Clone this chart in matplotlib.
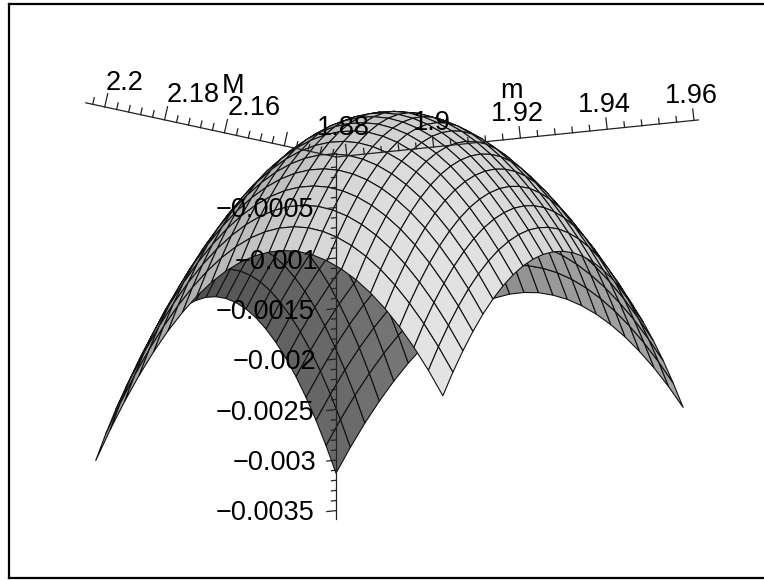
# Surface over (M, m) drawn as a boxed 3D plot, viewed from slightly below
import numpy as np
import matplotlib
matplotlib.use("Agg")
import matplotlib.pyplot as plt
from matplotlib.lines import Line2D
from mpl_toolkits.mplot3d import proj3d

plt.rcParams["font.family"] = ["Liberation Sans", "DejaVu Sans"]

# Axis ranges and ticks
M_range = [2.1227, 2.2063]
m_range = [1.8775, 1.9610]
z_range = [-0.00358, 0.00004]
M_grid_range = [2.1227, 2.2030]
m_grid_range = [1.8775, 1.9575]

M_major = [2.14, 2.16, 2.18, 2.2]
m_major = [1.88, 1.9, 1.92, 1.94, 1.96]
z_major = [-0.0005, -0.001, -0.0015, -0.002, -0.0025, -0.003, -0.0035]
M_minor = [2.124, 2.128, 2.132, 2.136, 2.144, 2.148, 2.152, 2.156, 2.164, 2.168,
           2.172, 2.176, 2.184, 2.188, 2.192, 2.196, 2.204]
m_minor = [1.884, 1.888, 1.892, 1.896, 1.904, 1.908, 1.912, 1.916, 1.924, 1.928,
           1.932, 1.936, 1.944, 1.948, 1.952, 1.956]
z_minor = [-0.0001, -0.0002, -0.0003, -0.0004, -0.0006, -0.0007, -0.0008, -0.0009,
           -0.0011, -0.0012, -0.0013, -0.0014, -0.0016, -0.0017, -0.0018, -0.0019,
           -0.0021, -0.0022, -0.0023, -0.0024, -0.0026, -0.0027, -0.0028, -0.0029,
           -0.0031, -0.0032, -0.0033, -0.0034]

# Surface height along the four mesh edges, in units of 1e-5
z_m_low = [-313, -287.7, -264.8, -244.2, -225.9, -209.9, -196.4, -185.2, -176.2, -169.6,
           -165.5, -163.6, -164, -166.8, -172, -179.4, -189.2, -201.4, -215.9, -232.7,
           -251.9, -273.4, -297.3, -323.5, -352]
z_m_high = [-283, -260.9, -240.8, -222.9, -207, -193.1, -181.4, -171.7, -164, -158.5,
            -155, -153.5, -154.2, -156.9, -161.6, -168.5, -177.4, -188.3, -201.4, -216.5,
            -233.6, -252.9, -274.2, -297.5, -323]
z_M_low = [-313, -288.7, -266.2, -246, -227.6, -211.3, -197, -184.7, -174.4, -166.2,
           -159.8, -155.6, -153.3, -153.1, -154.8, -158.7, -164.4, -172.2, -182, -193.8,
           -207.6, -223.5, -241.2, -261.1, -283]
z_M_high = [-352, -322.9, -296.3, -272.1, -250.3, -230.9, -214, -199.4, -187.3, -177.6,
            -170.3, -165.5, -163.1, -163.1, -165.5, -170.4, -177.7, -187.4, -199.5, -213.9,
            -230.9, -250.3, -272.1, -296.3, -323]

ELEV = -8.56
AZIM = 34.5
BOX = (443, 441, 371)

# Build the mesh from its edges (index i runs along M, j along m)
n = len(z_m_low)
s = np.arange(n) / (n - 1)
S, T = np.meshgrid(s, s, indexing="ij")
A, B = np.array(z_m_low), np.array(z_m_high)
C, D = np.array(z_M_low), np.array(z_M_high)
Z = ((1 - T) * A[:, None] + T * B[:, None] + (1 - S) * C[None, :] + S * D[None, :]
     - ((1 - S) * (1 - T) * A[0] + S * (1 - T) * A[-1] + (1 - S) * T * B[0] + S * T * B[-1])) * 1e-5
MM = M_grid_range[0] + S * (M_grid_range[1] - M_grid_range[0])
mm = m_grid_range[0] + T * (m_grid_range[1] - m_grid_range[0])


def face_colors():
    # Camera frame
    th, ph = np.radians(ELEV), np.radians(AZIM)
    right = np.array([-np.sin(ph), np.cos(ph), 0])
    up = np.array([-np.sin(th) * np.cos(ph), -np.sin(th) * np.sin(ph), np.cos(th)])
    eye = np.array([np.cos(th) * np.cos(ph), np.cos(th) * np.sin(ph), np.sin(th)])
    # Positions in box units
    P = np.stack([(MM - M_range[0]) / (M_range[1] - M_range[0]) * BOX[0],
                  (mm - m_range[0]) / (m_range[1] - m_range[0]) * BOX[1],
                  (Z - z_range[0]) / (z_range[1] - z_range[0]) * BOX[2]], axis=-1)
    d1 = P[1:, 1:] - P[:-1, :-1]
    d2 = P[:-1, 1:] - P[1:, :-1]
    N = np.cross(d1, d2)
    N /= np.linalg.norm(N, axis=-1, keepdims=True)
    N *= np.sign(N[..., 2:3])  # upward = outer side
    ne = N @ eye
    outer = ne > 0
    Nv = np.where(outer[..., None], N, -N)
    nr, nu, ne = Nv @ right, Nv @ up, Nv @ eye
    g_out = 0.60 + 0.26 * ne + 0.12 * nu + 0.07 * nr
    g_in = 0.38 - 0.20 * nr - 0.20 * nu
    g = np.clip(np.where(outer, g_out, g_in), 0, 1)
    return np.stack([g, g, g, np.ones_like(g)], axis=-1)


fig = plt.figure(figsize=(7.64, 5.80), dpi=100)
W, H = 764.0, 580.0

# Frame: left, top and bottom rules only, running off the right edge
for xs, ys in (([8.5, 8.5], [4, 577.5]), ([8.5, 764], [4, 4]), ([8.5, 764], [577.5, 577.5])):
    fig.add_artist(Line2D([v / W for v in xs], [1 - v / H for v in ys], transform=fig.transFigure,
                          color="black", linewidth=1.6, solid_capstyle="projecting"))

ax = fig.add_axes([0, 0, 1, 1], projection="3d", proj_type="ortho", computed_zorder=False)
ax.view_init(elev=ELEV, azim=AZIM)
ax.set_box_aspect(BOX)
ax.set_axis_off()
ax.patch.set_alpha(0)

ax.plot_surface(MM, mm, Z, rstride=1, cstride=1, facecolors=face_colors(), shade=False,
                edgecolor="#111111", linewidth=0.8, zorder=1)

ax.set_xlim(*M_range)
ax.set_ylim(*m_range)
ax.set_zlim(*z_range)

# Axis lines and ticks
line_kw = dict(color="#222222", linewidth=0.9, zorder=3)
ax.plot(M_range, [m_range[0]] * 2, [0, 0], **line_kw)
ax.plot([M_range[0]] * 2, m_range, [0, 0], **line_kw)
ax.plot([M_range[0]] * 2, [m_range[0]] * 2, z_range, **line_kw)

for vals, size in ((M_major, 1.0), (M_minor, 0.5)):
    for v in vals:
        ax.plot([v, v], [m_range[0], m_range[0] + 0.0007 * size], [0, 0.000128 * size], **line_kw)
for vals, size in ((m_major, 1.0), (m_minor, 0.5)):
    for v in vals:
        ax.plot([M_range[0], M_range[0] + 0.00043 * size], [v, v], [0, 0.00011 * size], **line_kw)
for vals, size in ((z_major, 1.0), (z_minor, 0.5)):
    for v in vals:
        ax.plot([M_range[0]] * 2, [m_range[0], m_range[0] - 0.0021 * size], [v, v], **line_kw)


def to_px(M, m, z):
    x2, y2, _ = proj3d.proj_transform(M, m, z, ax.get_proj())
    return ax.transData.transform((x2, y2))


# Fit the box so the axes land where they do in the target
side = 764.0
x0, y0 = 0.0, 0.0
for _ in range(3):
    ax.set_position([x0 / W, y0 / H, side / W, side / H])
    fig.canvas.draw()
    p0 = to_px(M_range[0], m_range[0], 0)
    p1 = to_px(M_range[0], 1.96, 0)
    side *= (694 - 336) / (p1[0] - p0[0])
    ax.set_position([x0 / W, y0 / H, side / W, side / H])
    fig.canvas.draw()
    p0 = to_px(M_range[0], m_range[0], 0)
    x0 += 336 - p0[0]
    y0 += (H - 157) - p0[1]
ax.set_position([x0 / W, y0 / H, side / W, side / H])
fig.canvas.draw()


def put_label(text, px, py, ha="center"):
    fig.text(px / W, 1 - py / H, text, fontsize=19.5, ha=ha, va="center", color="black", zorder=10)


M_labels = [("2.2", 125, 83), ("2.18", 193, 95), ("2.16", 254, 108)]
m_labels = [("1.88", 343, 128), ("1.9", 432, 123), ("1.92", 517, 114), ("1.94", 604, 105), ("1.96", 691, 96)]
z_labels = [("\u22120.0005", 314, 210), ("\u22120.001", 318, 262), ("\u22120.0015", 314, 312),
            ("\u22120.002", 316, 362), ("\u22120.0025", 314, 413), ("\u22120.003", 316, 463),
            ("\u22120.0035", 314, 513)]
for t, px, py in M_labels + m_labels:
    put_label(t, px, py)
for t, px, py in z_labels:
    put_label(t, px, py, ha="right")
put_label("M", 233, 86)
put_label("m", 511, 91)

fig.savefig("out.png", dpi=100)
